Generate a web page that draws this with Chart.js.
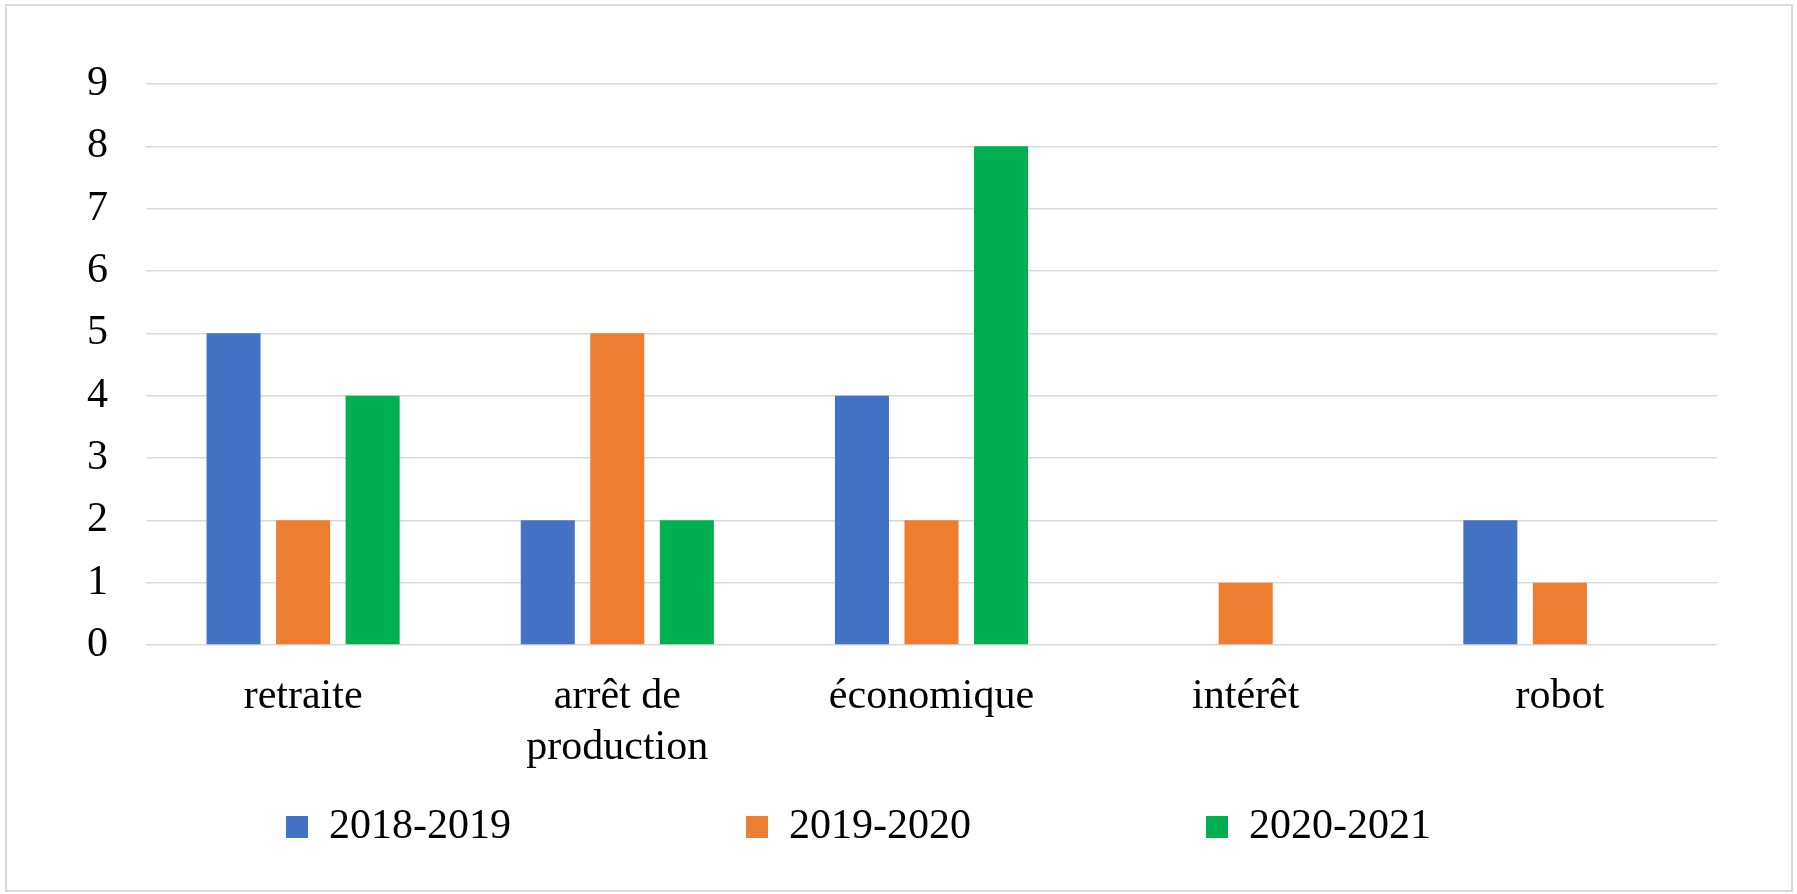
<!DOCTYPE html>
<html lang="fr">
<head>
<meta charset="utf-8">
<title>Motifs de départ</title>
<script src="https://cdn.jsdelivr.net/npm/chart.js"></script>
<style>
  html, body { margin: 0; padding: 0; background: #ffffff; }
  #wrap { position: relative; width: 1797px; height: 894px; }
  #frame {
    position: absolute; left: 5px; top: 4px; width: 1784px; height: 884px;
    border: 2px solid #d9d9d9; pointer-events: none;
  }
</style>
</head>
<body>
<div id="wrap">
  <canvas id="motifs-chart" width="1797" height="894"></canvas>
  <div id="frame"></div>
</div>
<script>
// Catégories (axe X)
const categories = ['retraite', ['arrêt de', 'production'], 'économique', 'intérêt', 'robot'];

// Séries par année
const seriesNames = ['2018-2019', '2019-2020', '2020-2021'];
const values2018 = [5, 2, 4, 0, 2];
const values2019 = [2, 5, 2, 1, 1];
const values2020 = [4, 2, 8, 0, 0];

// Graduations de l'axe Y
const yMin = 0;
const yMax = 9;
const yStep = 1;

// Couleurs
const seriesColors = ['#4472C4', '#ED7D31', '#00B050'];
const gridColor = '#d9d9d9';
const fontFamily = "'Liberation Serif', 'Times New Roman', serif";
const fontSize = 42;

function makeDataset(label, data, color) {
  return {
    label: label,
    data: data,
    backgroundColor: color,
    borderWidth: 0,
    categoryPercentage: 0.664,
    barPercentage: 0.777
  };
}

// Légende : espaces insécables en fin de texte pour écarter les entrées
function legendLabels(chart) {
  const items = Chart.defaults.plugins.legend.labels.generateLabels(chart);
  items.forEach(function(item, i) {
    if (i < items.length - 1) item.text = item.text + '\u00a0'.repeat(20);
  });
  return items;
}

function initChart() {
  const ctx = document.getElementById('motifs-chart').getContext('2d');
  return new Chart(ctx, {
    type: 'bar',
    data: {
      labels: categories,
      datasets: [
        makeDataset(seriesNames[0], values2018, seriesColors[0]),
        makeDataset(seriesNames[1], values2019, seriesColors[1]),
        makeDataset(seriesNames[2], values2020, seriesColors[2])
      ]
    },
    options: {
      responsive: false,
      animation: false,
      layout: {
        padding: { top: 84, right: 80, bottom: 36, left: 0 }
      },
      plugins: {
        title: { display: false },
        tooltip: { enabled: false },
        legend: {
          display: true,
          position: 'bottom',
          labels: {
            boxWidth: 22,
            boxHeight: 22,
            padding: 25,
            color: '#000000',
            font: { family: fontFamily, size: fontSize },
            generateLabels: legendLabels
          }
        }
      },
      scales: {
        x: {
          grid: { display: false },
          border: { display: false },
          afterFit: function(scale) { scale.height = 136; },
          ticks: {
            color: '#000000',
            padding: 19,
            maxRotation: 0,
            autoSkip: false,
            font: { family: fontFamily, size: fontSize }
          }
        },
        y: {
          min: yMin,
          max: yMax,
          grid: { color: gridColor, lineWidth: 1.5, drawTicks: false },
          border: { display: false },
          afterFit: function(scale) { scale.width = 146; },
          ticks: {
            stepSize: yStep,
            autoSkip: false,
            color: '#000000',
            padding: 38,
            font: { family: fontFamily, size: fontSize }
          }
        }
      }
    }
  });
}

initChart();
</script>
</body>
</html>
